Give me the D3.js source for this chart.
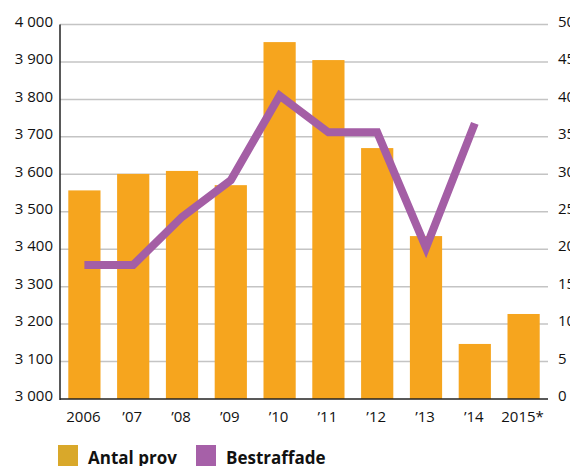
<!DOCTYPE html>
<html><head><meta charset="utf-8">
<script src="https://cdn.jsdelivr.net/npm/d3@7"></script>
<style>body{margin:0;background:#fff}svg{display:block;font-family:"Open Sans",sans-serif}</style>
</head><body><svg id="c" width="570" height="466"></svg>
<script>
const categories = ["2006","’07","’08","’09","’10","’11","’12","’13","’14","2015*"];
const antalProv = [3557,3601,3609,3571,3953,3905,3670,3435,3147,3227];
const bestraffade = [17.9,17.9,24.3,29.2,40.5,35.6,35.6,20.2,36.8,null];
const leftTicks = [3000,3100,3200,3300,3400,3500,3600,3700,3800,3900,4000];
const rightTicks = [0,5,10,15,20,25,30,35,40,45,50];
const legendLabels = ["Antal prov","Bestraffade"];

const svg = d3.select("#c");
const m = {l:60, r:548, t:24.5, b:399};
const x = d3.scaleBand().domain(categories).range([m.l, m.r]).paddingInner(0.34).paddingOuter(0.17);
const yL = d3.scaleLinear().domain([3000,4000]).range([m.b, m.t]);
const yR = d3.scaleLinear().domain([0,50]).range([m.b, m.t]);
const fmt = v => d3.format(",")(v).replace(/,/g," ");

// gridlines
svg.append("g").selectAll("line").data(leftTicks.slice(1)).join("line")
  .attr("x1", m.l).attr("x2", m.r).attr("y1", d=>yL(d)).attr("y2", d=>yL(d))
  .attr("stroke","#c4c4c4").attr("stroke-width",1.5);

// bars
svg.append("g").selectAll("rect").data(categories).join("rect")
  .attr("x", d=>x(d)).attr("width", x.bandwidth())
  .attr("y", (d,i)=>yL(antalProv[i])).attr("height", (d,i)=>m.b - yL(antalProv[i]))
  .attr("fill","#F6A51E");

// line
const lineData = categories.map((c,i)=>({c, v:bestraffade[i]})).filter(d=>d.v!=null);
svg.append("path").datum(lineData)
  .attr("d", d3.line().x(d=>x(d.c)+x.bandwidth()/2).y(d=>yR(d.v)))
  .attr("fill","none").attr("stroke","#A45EA5").attr("stroke-width",8).attr("stroke-linejoin","miter");

// axes lines
svg.append("line").attr("x1",m.l).attr("x2",m.l).attr("y1",m.t).attr("y2",m.b+1).attr("stroke","#222").attr("stroke-width",1.5);
svg.append("line").attr("x1",m.l).attr("x2",m.r).attr("y1",m.b).attr("y2",m.b).attr("stroke","#222").attr("stroke-width",1.5);

// left labels
svg.append("g").selectAll("text").data(leftTicks).join("text")
  .attr("x", 53).attr("y", d=>yL(d)-3).attr("dy","0.35em").attr("text-anchor","end")
  .attr("font-size",15).attr("fill","#111").text(fmt);
// right labels
svg.append("g").selectAll("text").data(rightTicks).join("text")
  .attr("x", 558).attr("y", d=>yR(d)-3).attr("dy","0.35em").attr("text-anchor","start")
  .attr("font-size",15).attr("fill","#111").text(d=>d);
// x labels
svg.append("g").selectAll("text").data(categories).join("text")
  .attr("x", d=>x(d)+x.bandwidth()/2 - 1).attr("y", 417).attr("dy","0.35em").attr("text-anchor","middle")
  .attr("font-size",15).attr("fill","#111").text(d=>d);

// legend
const lg = svg.append("g");
const lx = [58, 196];
const lc = ["#D9A82A","#A660A8"];
legendLabels.forEach((t,i)=>{
  lg.append("rect").attr("x",lx[i]).attr("y",445).attr("width",20).attr("height",21).attr("fill",lc[i]);
  lg.append("text").attr("x",lx[i]+30).attr("y",464).attr("font-size",17).attr("font-weight","bold").attr("fill","#111").text(t);
});
</script></body></html>
